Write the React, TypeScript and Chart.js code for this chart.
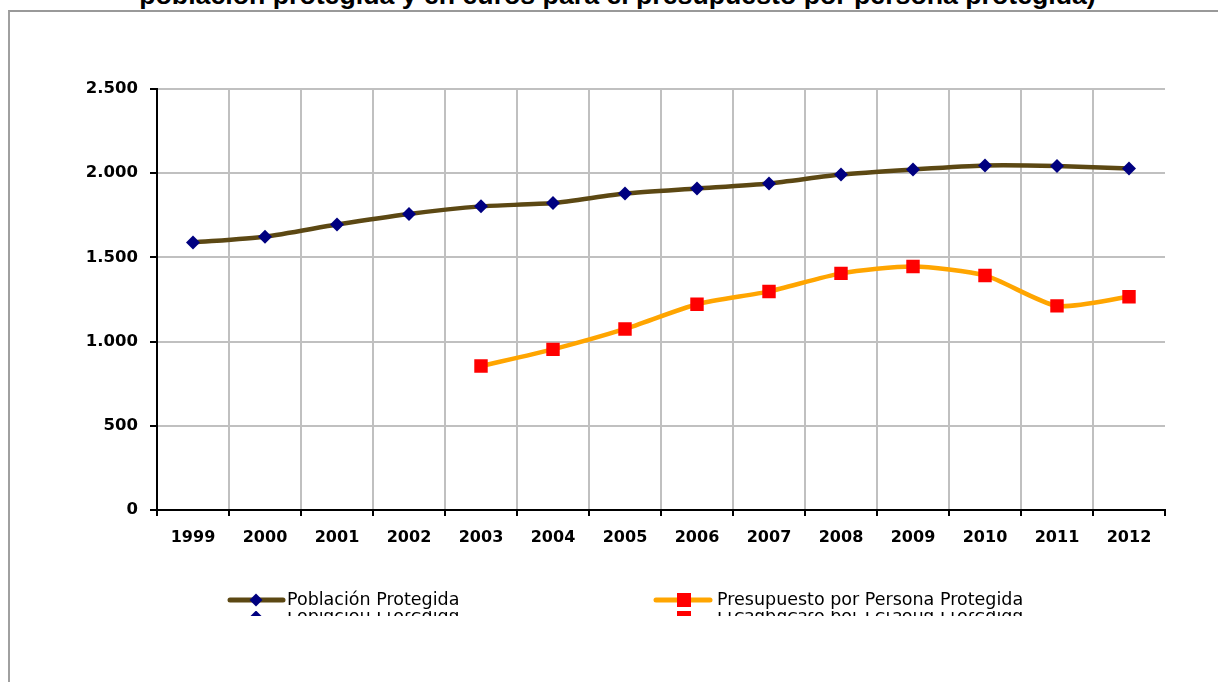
import React, { useEffect, useRef } from "react";
import { Chart, registerables } from "chart.js";

Chart.register(...registerables);

// ---- Data ----
const years = ["1999", "2000", "2001", "2002", "2003", "2004", "2005", "2006", "2007", "2008", "2009", "2010", "2011", "2012"];
const poblacion = [1589, 1623, 1695, 1758, 1803, 1823, 1879, 1909, 1939, 1992, 2022, 2046, 2043, 2028];
const presupuesto = [null, null, null, null, 855, 954, 1075, 1222, 1298, 1405, 1446, 1393, 1212, 1266];
const yTickValues = [0, 500, 1000, 1500, 2000, 2500];
const seriesLabels = ["Población Protegida", "Presupuesto por Persona Protegida"];
const titleText = "población protegida y en euros para el presupuesto por persona protegida)";

const fmt = (v: number) => String(v).replace(/\B(?=(\d{3})+(?!\d))/g, ".");

const BROWN = "#5C4813";
const ORANGE = "#FFA500";
const NAVY = "#000080";
const RED = "#FF0000";

const legendPlugin = {
  id: "customLegend",
  afterDraw(chart: any) {
    const ctx = chart.ctx as CanvasRenderingContext2D;
    const y = 600;
    const items = [
      { x0: 230, x1: 283, mx: 256, tx: 287, ds: 0 },
      { x0: 656, x1: 710, mx: 684, tx: 717, ds: 1 },
    ];
    const draw = (withLine: boolean) => {
      items.forEach((it) => {
        const ds = chart.data.datasets[it.ds];
        if (withLine) {
          ctx.save();
          ctx.strokeStyle = ds.borderColor;
          ctx.lineWidth = 5;
          ctx.lineCap = "round";
          ctx.beginPath();
          ctx.moveTo(it.x0, y);
          ctx.lineTo(it.x1, y);
          ctx.stroke();
          ctx.restore();
        }
        ctx.save();
        ctx.fillStyle = ds.pointBackgroundColor;
        if (ds.pointStyle === "rectRot") {
          const r = 6.5;
          ctx.beginPath();
          ctx.moveTo(it.mx, y - r);
          ctx.lineTo(it.mx + r, y);
          ctx.lineTo(it.mx, y + r);
          ctx.lineTo(it.mx - r, y);
          ctx.closePath();
          ctx.fill();
        } else {
          ctx.fillRect(it.mx - 7, y - 7, 14, 14);
        }
        ctx.restore();
        ctx.save();
        ctx.fillStyle = "#000";
        ctx.font = "17.5px 'DejaVu Sans'";
        ctx.textBaseline = "middle";
        ctx.textAlign = "left";
        ctx.fillText(ds.label, it.tx, y);
        ctx.restore();
      });
    };
    draw(true);
    // faint mirrored reflection strip under the legend, as in the source scan
    ctx.save();
    ctx.beginPath();
    ctx.rect(200, 611, 900, 5);
    ctx.clip();
    ctx.translate(0, 2 * 608.5);
    ctx.scale(1, -1);
    draw(false);
    ctx.restore();
  },
};

export default function App() {
  const ref = useRef<HTMLCanvasElement | null>(null);

  useEffect(() => {
    if (!ref.current) return;
    const chart = new Chart(ref.current, {
      type: "line",
      data: {
        labels: years,
        datasets: [
          {
            label: seriesLabels[0],
            data: poblacion,
            borderColor: BROWN,
            backgroundColor: NAVY,
            borderWidth: 4.5,
            tension: 0.22,
            pointStyle: "rectRot",
            pointRadius: 7,
            pointBackgroundColor: NAVY,
            pointBorderColor: NAVY,
            pointBorderWidth: 0,
            fill: false,
          },
          {
            label: seriesLabels[1],
            data: presupuesto,
            borderColor: ORANGE,
            backgroundColor: RED,
            borderWidth: 4.5,
            tension: 0.22,
            pointStyle: "rect",
            pointRadius: 9.5,
            pointBackgroundColor: RED,
            pointBorderColor: RED,
            pointBorderWidth: 0,
            fill: false,
            spanGaps: false,
          },
        ],
      },
      options: {
        responsive: false,
        animation: false,
        devicePixelRatio: 1,
        layout: { padding: { top: 89, right: 53, left: 0, bottom: 0 } },
        plugins: {
          legend: { display: false },
          title: { display: false },
          tooltip: { enabled: false },
        },
        scales: {
          x: {
            type: "category",
            offset: true,
            afterFit: (s: any) => {
              s.height = 172;
            },
            border: { display: true, color: "#000", width: 2 },
            grid: {
              offset: true,
              drawOnChartArea: true,
              color: (c: any) => (c.tick && c.index > 0 ? "#C0C0C0" : "rgba(0,0,0,0)"),
              lineWidth: 2,
              tickColor: "#000",
              tickLength: 6,
              tickWidth: 2,
            },
            ticks: {
              color: "#000",
              font: { family: "'DejaVu Sans'", size: 16, weight: "bold" },
              padding: 12,
              maxRotation: 0,
              autoSkip: false,
            },
          },
          y: {
            min: 0,
            max: 2500,
            afterFit: (s: any) => {
              s.width = 157;
            },
            afterBuildTicks: (s: any) => {
              s.ticks = yTickValues.map((v) => ({ value: v }));
            },
            border: { display: true, color: "#000", width: 2 },
            grid: {
              color: (c: any) => (c.tick && c.tick.value === 0 ? "rgba(0,0,0,0)" : "#C0C0C0"),
              lineWidth: 2,
              tickColor: "#000",
              tickLength: 7,
              tickWidth: 2,
            },
            ticks: {
              color: "#000",
              font: { family: "'DejaVu Sans'", size: 16.5, weight: "bold" },
              padding: 12,
              callback: (v: any) => fmt(Number(v)),
            },
          },
        },
      },
      plugins: [legendPlugin],
    });
    return () => chart.destroy();
  }, []);

  return (
    <div style={{ position: "absolute", left: 0, top: 0, width: 1218, height: 682, overflow: "hidden", background: "#fff" }}>
      <div
        style={{
          position: "absolute",
          left: 8,
          top: 10,
          width: 1300,
          height: 700,
          borderTop: "2px solid #999999",
          borderLeft: "2px solid #A0A0A0",
        }}
      />
      <div
        style={{
          position: "absolute",
          left: 617.5,
          top: -20,
          transform: "translateX(-50%)",
          font: "bold 26.7px 'Liberation Sans', Arial, sans-serif",
          lineHeight: "30px",
          whiteSpace: "nowrap",
          color: "#000",
        }}
      >
        {titleText}
      </div>
      <canvas ref={ref} width={1218} height={682} style={{ position: "absolute", left: 0, top: 0, display: "block" }} />
    </div>
  );
}
